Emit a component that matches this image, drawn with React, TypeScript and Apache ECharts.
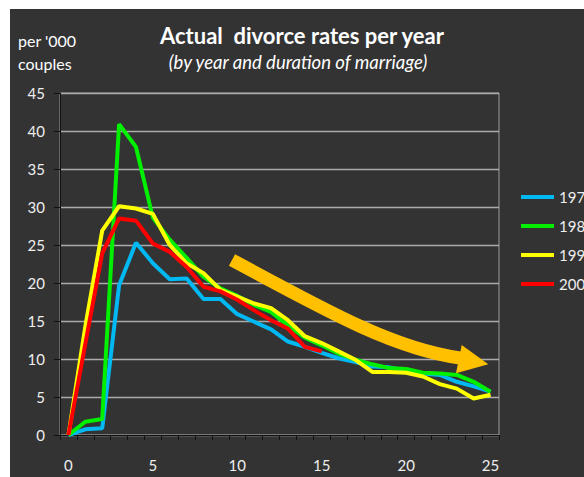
import React, { useEffect, useRef } from "react";
import * as echarts from "echarts";

const durations = Array.from({ length: 26 }, (_, i) => String(i));
const rates1970 = [0, 0.75, 0.9, 19.7, 25.3, 22.6, 20.5, 20.6, 17.9, 17.9, 15.9, 14.9, 13.9, 12.3, 11.6, 10.8, 10.1, 9.6, 9.0, 8.9, 8.5, 8.1, 7.9, 7.0, 6.4, 5.7];
const rates1980 = [0, 1.75, 2.1, 40.9, 37.9, 28.6, 25.7, 23.3, 20.8, 19.3, 18.3, 17.1, 16.2, 14.4, 12.8, 11.8, 10.7, 9.9, 9.3, 8.8, 8.7, 8.2, 8.1, 7.9, 7.0, 5.7];
const rates1990 = [0, 14.3, 26.9, 30.1, 29.8, 29.1, 25.0, 22.6, 21.3, 19.1, 18.2, 17.3, 16.7, 15.1, 13.0, 12.1, 11.0, 9.9, 8.3, 8.3, 8.2, 7.7, 6.7, 6.1, 4.8, 5.3];
const rates2000 = [0, 12.0, 23.9, 28.5, 28.2, 25.2, 24.1, 22.1, 19.5, 18.9, 17.8, 16.4, 15.1, 14.0, 11.6, 11.0];
const seriesNames = ["1970", "1980", "1990", "2000"];
const seriesColors = ["#00B8F2", "#00F000", "#FFFF00", "#FF0000"];

const FONT = "Lato, 'Open Sans', sans-serif";

export default function App() {
  const ref = useRef<HTMLDivElement>(null);
  useEffect(() => {
    document.body.style.margin = "0";
    const chart = echarts.init(ref.current!, null, { renderer: "svg" });
    const data = [rates1970, rates1980, rates1990, rates2000];
    chart.setOption({
      animation: false,
      backgroundColor: "#333333",
      textStyle: { fontFamily: FONT },
      grid: {
        left: 50,
        top: 84,
        width: 439,
        height: 342,
        show: true,
        borderColor: "#9C9C9C",
        borderWidth: 1,
        backgroundColor: "transparent",
      },
      legend: {
        orient: "vertical",
        left: 506,
        top: 174,
        itemWidth: 33,
        itemHeight: 4,
        itemGap: 11,
        icon: "rect",
        textStyle: { color: "#EEEEEE", fontSize: 15, fontFamily: FONT, lineHeight: 18 },
        data: seriesNames,
      },
      xAxis: {
        type: "category",
        data: durations,
        boundaryGap: true,
        axisLine: { lineStyle: { color: "#111111", width: 1 } },
        axisTick: { show: true, interval: 0, length: 5, lineStyle: { color: "#111111" } },
        axisLabel: { interval: 4, color: "#EEEEEE", fontSize: 15, margin: 22, fontFamily: FONT },
        splitLine: { show: false },
      },
      yAxis: {
        type: "value",
        min: 0,
        max: 45,
        interval: 5,
        axisLine: { show: true, lineStyle: { color: "#111111", width: 1 } },
        axisTick: { show: true, length: 6, lineStyle: { color: "#111111" } },
        axisLabel: { color: "#EEEEEE", fontSize: 15, margin: 15, fontFamily: FONT },
        splitLine: { show: true, lineStyle: { color: "#ABABAB", width: 1.3 } },
      },
      series: seriesNames.map((name, k) => ({
        name,
        type: "line",
        data: data[k],
        showSymbol: false,
        symbol: "none",
        lineStyle: { color: seriesColors[k], width: 4 },
        itemStyle: { color: seriesColors[k] },
      })),
      graphic: [
        {
          type: "text",
          x: 292,
          y: 26,
          style: {
            text: "Actual  divorce rates per year",
            fill: "#FFFFFF",
            font: `bold 22px ${FONT}`,
            textAlign: "center",
            textVerticalAlign: "middle",
          },
        },
        {
          type: "text",
          x: 288,
          y: 53,
          style: {
            text: "(by year and duration of marriage)",
            fill: "#FFFFFF",
            font: `italic 18.5px ${FONT}`,
            textAlign: "center",
            textVerticalAlign: "middle",
          },
        },
        {
          type: "text",
          x: 8,
          y: 31,
          style: { text: "per '000", fill: "#FFFFFF", font: `16px ${FONT}`, textAlign: "left", textVerticalAlign: "middle" },
        },
        {
          type: "text",
          x: 8,
          y: 54,
          style: { text: "couples", fill: "#FFFFFF", font: `16px ${FONT}`, textAlign: "left", textVerticalAlign: "middle" },
        },
        {
          type: "bezierCurve",
          z: 100,
          shape: { x1: 222, y1: 251, cpx1: 320, cpy1: 304, cpx2: 385, cpy2: 340, x2: 450, y2: 349 },
          style: { stroke: "#FFC000", lineWidth: 13, fill: "none", lineCap: "butt" },
        },
        {
          type: "polygon",
          z: 100,
          shape: { points: [[451.7, 336], [478.3, 355.3], [446, 364.3]] },
          style: { fill: "#FFC000" },
        },
      ],
    });
    return () => chart.dispose();
  }, []);
  return (
    <div style={{ position: "relative", width: 584, height: 477, background: "#FFFFFF", overflow: "hidden" }}>
      <div ref={ref} style={{ position: "absolute", left: 10, top: 9, width: 574, height: 468 }} />
    </div>
  );
}
